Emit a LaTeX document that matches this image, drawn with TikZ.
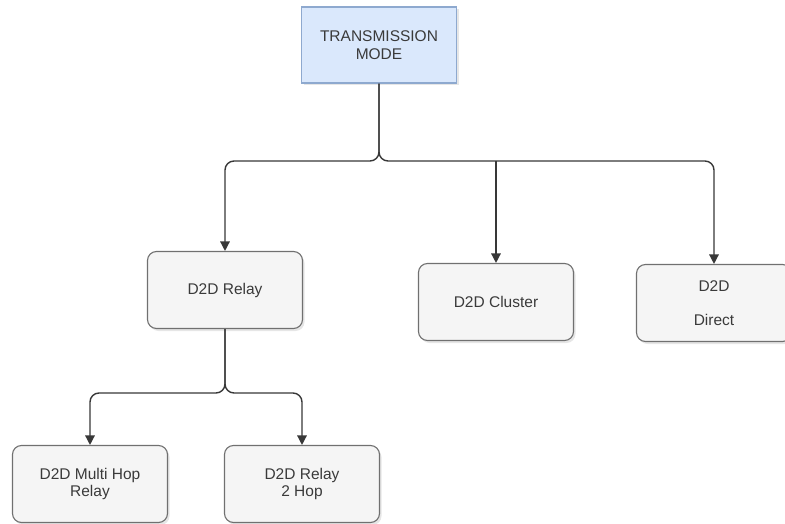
\documentclass[tikz,border=0pt]{standalone}
\usepackage{fontspec}
\setmainfont{Liberation Sans}
\usetikzlibrary{arrows.meta,shadows}
\definecolor{boxfill}{HTML}{F5F5F5}
\definecolor{boxline}{HTML}{707070}
\definecolor{topfill}{HTML}{DAE8FC}
\definecolor{topline}{HTML}{8EA9CF}
\definecolor{txt}{HTML}{3A3A3A}
\definecolor{wire}{HTML}{383838}
\tikzset{
  box/.style={draw=boxline, fill=boxfill, line width=1.1pt, rounded corners=9pt,
    minimum width=155pt, minimum height=77pt, align=center, text=txt,
    font=\fontsize{15.5}{17.5}\selectfont,
    drop shadow={opacity=0.2, shadow xshift=2pt, shadow yshift=-2.5pt}},
  topbox/.style={box, rounded corners=0pt, draw=topline, fill=topfill, minimum height=76pt},
  conn/.style={draw=wire, line width=1.4pt, rounded corners=9pt,
    -{Triangle[length=9.5pt,width=9.5pt]}},
}
\begin{document}
\begin{tikzpicture}[x=1pt,y=-1pt]
  \useasboundingbox (0,0) rectangle (785,524);
  \clip (0,0) rectangle (785,524);

  % boxes
  \node[topbox] (mode) at (379,45) {TRANSMISSION\\MODE};
  \node[box] (relay) at (225,290) {D2D Relay};
  \node[box] (cluster) at (496,302) {D2D Cluster};
  \node[box] (direct) at (714,303) {D2D\\[17pt]Direct};
  \node[box] (multi) at (90,484) {D2D Multi Hop\\Relay};
  \node[box] (twohop) at (302,484) {D2D Relay\\2 Hop};

  % junction points of the two trees
  \coordinate (j1) at (379,161);
  \coordinate (j2) at (225,393);

  % upper tree
  \draw[conn] (mode.south) -- (j1) -| (relay.north);
  \draw[conn] (mode.south) -- (j1) -| (direct.north);
  \draw[conn, rounded corners=0pt] (cluster.north |- j1) -- (cluster.north);

  % lower tree
  \draw[conn] (relay.south) -- (j2) -| (multi.north);
  \draw[conn] (relay.south) -- (j2) -| (twohop.north);
\end{tikzpicture}
\end{document}
